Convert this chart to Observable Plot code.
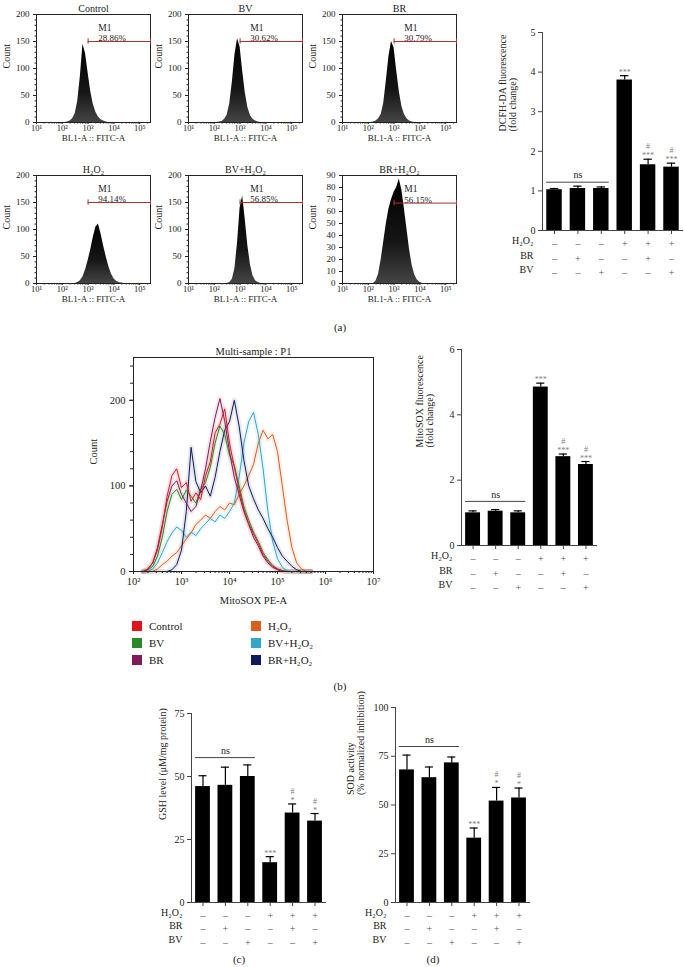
<!DOCTYPE html>
<html><head><meta charset="utf-8">
<script src="https://cdn.jsdelivr.net/npm/d3@7"></script>
<script src="https://cdn.jsdelivr.net/npm/@observablehq/plot@0.6"></script>
<style>
body{margin:0;background:#fff;}
#root{position:relative;width:684px;height:967px;overflow:hidden;font-family:"Liberation Serif","DejaVu Serif",serif;color:#222;}
#root svg{position:absolute;overflow:visible;}
.pl{position:absolute;font-size:11px;transform:translate(-50%,-50%);white-space:nowrap;}
.lg{position:absolute;font-size:11px;white-space:nowrap;line-height:12px;}
.sw{position:absolute;width:10px;height:10px;}
</style></head><body><div id="root"></div>
<script>
const serif = '"Liberation Serif","DejaVu Serif",serif';

// ---------------- (a) flow histograms (counts per 0.1-decade bin) ----------------
const histBins = [2.0,2.1,2.2,2.3,2.4,2.5,2.6,2.7,2.8,2.9,3.0,3.1,3.2,3.3,3.4,3.5,3.6,3.7,3.8,3.9,4.0,4.1,4.2,4.3,4.4,4.5,4.6];
const histControl = [0,0,1,3,7,16,40,85,145,128,92,58,34,19,10,5,3,1,0,0,0,0,0,0,0,0,0];
const histBV      = [0,0,1,2,6,14,35,75,125,155,140,95,55,28,13,6,3,1,0,0,0,0,0,0,0,0,0];
const histBR      = [0,0,1,3,7,15,36,78,122,150,138,96,58,30,15,7,3,1,0,0,0,0,0,0,0,0,0];
const histH2O2    = [0,0,0,0,0,0,2,5,12,25,42,62,85,104,110,92,70,50,32,18,9,4,2,1,0,0,0];
const histBVH2O2  = [0,0,0,0,0,0,2,8,28,75,140,162,118,70,35,14,5,2,0,0,0,0,0,0,0,0,0];
const histBRH2O2  = [0,0,0,2,8,20,35,50,62,70,76,80,87,78,62,45,28,15,7,3,1,0,0,0,0,0,0];
const histTitles  = ["Control","BV","BR","H₂O₂","BV+H₂O₂","BR+H₂O₂"];
const histGatePct = ["28.86%","30.62%","30.79%","94.14%","56.85%","56.15%"];
const histGateLvl = [150,150,150,150,150,67];
const histYMax    = [200,200,200,200,200,90];
const histYTicksA = [0,50,100,150,200];
const histYMinorA = [10,20,30,40,60,70,80,90,110,120,130,140,160,170,180,190];
const histYTicksB = [0,10,20,30,40,50,60,70,80,90];
const histXTicks  = [10,100,1000,10000,100000];
const histXLabels = ["10¹","10²","10³","10⁴","10⁵"];
const histXMinor  = [20,30,40,50,60,70,80,90,200,300,400,500,600,700,800,900,2000,3000,4000,5000,6000,7000,8000,9000,20000,30000,40000,50000,60000,70000,80000,90000,200000];

// ---------------- (b) overlay histogram ----------------
const ovBins = [2.2,2.3,2.4,2.5,2.6,2.7,2.8,2.9,3.0,3.1,3.2,3.3,3.4,3.5,3.6,3.7,3.8,3.9,4.0,4.1,4.2,4.3,4.4,4.5,4.6,4.7,4.8,4.9,5.0,5.1,5.2,5.3,5.4,5.5,5.6,5.7];
const ovControl = [0,3,10,25,52,88,112,120,98,104,82,92,84,112,128,162,172,190,150,122,96,72,56,44,33,20,12,6,3,1,0,0,0,0,0,0];
const ovBV      = [0,2,6,18,40,70,90,96,84,95,88,80,96,104,122,150,170,160,136,124,100,76,60,46,35,22,14,7,3,1,0,0,0,0,0,0];
const ovBR      = [0,3,10,28,55,82,100,106,90,80,70,76,95,120,152,180,202,176,140,110,90,70,55,40,30,18,10,5,2,0,0,0,0,0,0,0];
const ovH2O2    = [0,0,0,3,8,12,18,22,30,38,45,55,60,66,62,70,76,72,80,78,90,100,112,125,150,165,155,160,140,100,60,28,10,3,0,0];
const ovBVH2O2  = [0,0,3,10,22,35,45,52,48,40,46,42,50,56,62,58,66,62,70,80,110,150,175,186,160,120,70,35,15,5,1,0,0,0,0,0];
const ovBRH2O2  = [0,0,0,0,0,0,2,8,25,70,145,105,92,100,88,110,140,165,175,200,170,130,100,85,72,62,50,40,28,18,12,6,2,0,0,0];
const ovNames   = ["Control","BV","BR","H₂O₂","BV+H₂O₂","BR+H₂O₂"];
const ovColors  = ["#e0141c","#2b8a26","#801a5c","#da5e1c","#31a6c8","#0f1a5c"];
const ovXTicks  = [100,1000,10000,100000,1000000,10000000];
const ovXLabels = ["10²","10³","10⁴","10⁵","10⁶","10⁷"];
const ovYTicks  = [0,100,200];
const ovYMinor  = [0,20,40,60,80,100,120,140,160,180,200,220,240];

// ---------------- bar charts ----------------
const rowH2O2 = ["–","–","–","+","+","+"];
const rowBR   = ["–","+","–","–","+","–"];
const rowBV   = ["–","–","+","–","–","+"];
const dcfhMean = [1.03,1.06,1.06,3.80,1.66,1.60];
const dcfhErr  = [0.03,0.06,0.04,0.11,0.14,0.10];
const mitoMean = [1.00,1.05,1.00,4.85,2.72,2.48];
const mitoErr  = [0.06,0.05,0.06,0.12,0.08,0.09];
const gshMean  = [46,46.5,50,15.8,35.5,32.3];
const gshErr   = [4.3,7.2,4.6,2.4,3.6,3.0];
const sodMean  = [68,64,71.6,33,52,53.6];
const sodErr   = [7.6,5.5,3.0,5.2,7.0,5.1];
const sig1ROS  = ["","","","***","***","***"];
const sig2ROS  = ["","","","","#","#"];
const sig1Anti = ["","","","***","*","*"];
const sig2Anti = ["","","","","#","#"];

const root = document.getElementById("root");
function place(el, left, top){ el.style.left = left+"px"; el.style.top = top+"px"; root.appendChild(el); return el; }
function addDefs(svg){
  const defs = document.createElementNS("http://www.w3.org/2000/svg","defs");
  defs.innerHTML = '<linearGradient id="hg" x1="0" y1="0" x2="0" y2="1"><stop offset="0" stop-color="#000"/><stop offset="0.6" stop-color="#151515"/><stop offset="1" stop-color="#444"/></linearGradient>';
  svg.insertBefore(defs, svg.firstChild);
}
const baseStyle = {fontFamily: serif, background: "transparent", overflow: "visible", color: "#222"};

// ---- (a) histograms ----
const histSeries = [histControl,histBV,histBR,histH2O2,histBVH2O2,histBRH2O2];
const colLeft = [36,188,342], rowTop = [14,175];
histSeries.forEach((counts, i) => {
  const ML=36, MT=14, FW=114, FH=108, MR=8, MB=30;
  const ymax = histYMax[i], g = histGateLvl[i];
  const data = histBins.map((b,k) => ({x: Math.pow(10,b), y: counts[k]}));
  const svg = Plot.plot({
    width: ML+FW+MR, height: MT+FH+MB, marginLeft: ML, marginTop: MT, marginRight: MR, marginBottom: MB,
    style: {...baseStyle, fontSize: "9px"},
    x: {type: "log", domain: [10, 262144]},
    y: {domain: [0, ymax]},
    marks: [
      Plot.areaY(data, {x: "x", y: "y", fill: "url(#hg)", curve: "linear"}),
      Plot.frame({stroke: "#222"}),
      Plot.axisY({ticks: ymax === 200 ? histYTicksA : histYTicksB, tickSize: 3, tickPadding: 4, tickFormat: d => String(d), label: null}),
      ...(ymax === 200 ? [Plot.axisY({ticks: histYMinorA, tickSize: 1.5, tickFormat: () => "", label: null})] : []),
      Plot.axisX({ticks: histXTicks, tickFormat: d => histXLabels[histXTicks.indexOf(d)], tickSize: 2, tickPadding: 0, fontSize: 8.5, label: null}),
      Plot.axisX({ticks: histXMinor, tickFormat: () => "", tickSize: 1.5, label: null}),
      Plot.ruleY([g], {x1: 1000, x2: 262144, stroke: "#a83232", strokeWidth: 1}),
      Plot.ruleX([1000, 262144], {y1: g - ymax*0.025, y2: g + ymax*0.025, stroke: "#a83232"}),
      Plot.text(["M1"], {x: () => 2500, y: () => g, dy: -14, textAnchor: "start", fontSize: 9.5}),
      Plot.text([histGatePct[i]], {x: () => 2500, y: () => g, dy: -3, textAnchor: "start", fontSize: 9}),
      Plot.text([histTitles[i]], {frameAnchor: "top", dy: -10, fontSize: 10}),
      Plot.text(["Count"], {frameAnchor: "left", rotate: -90, dx: -30, fontSize: 10}),
      Plot.text(["BL1-A :: FITC-A"], {frameAnchor: "bottom", dy: 18, fontSize: 9})
    ]
  });
  if (i === 0) addDefs(svg);
  place(svg, colLeft[i%3]-ML, rowTop[Math.floor(i/3)]-MT);
});

// ---- bar chart helper ----
function barChart(o){
  const ML=80, MT=22, MR=4, MB=52;
  const data = o.mean.map((m,k) => ({i: k+1, mean: m, top: m + o.err[k], h: rowH2O2[k], br: rowBR[k], bv: rowBV[k], s1: o.s1[k], s2: o.s2[k]}));
  const x0 = 0.487, x1 = 6.513;
  const svg = Plot.plot({
    width: ML+o.fw+MR, height: MT+o.fh+MB, marginLeft: ML, marginTop: MT, marginRight: MR, marginBottom: MB,
    style: {...baseStyle, fontSize: "10px"},
    x: {domain: [x0, x1]},
    y: {domain: o.yDomain},
    marks: [
      Plot.rectY(data, {x1: d => d.i - 0.33, x2: d => d.i + 0.33, y1: () => 0, y2: "mean", fill: "#000"}),
      Plot.ruleX(data, {x: "i", y1: "mean", y2: "top", stroke: "#000", strokeWidth: 1.2}),
      Plot.ruleY(data, {x1: d => d.i - 0.18, x2: d => d.i + 0.18, y: "top", stroke: "#000", strokeWidth: 1.2}),
      Plot.ruleY([0], {stroke: "#444"}),
      Plot.ruleX([x0], {y1: () => 0, y2: () => o.yDomain[1], stroke: "#444"}),
      Plot.axisY({ticks: o.yTicks, tickSize: 4, tickPadding: 3, tickFormat: d => String(d), label: null, stroke: "#444"}),
      Plot.axisX({ticks: [1,2,3,4,5,6], tickSize: 4, tickFormat: () => "", label: null, stroke: "#444"}),
      Plot.ruleY([o.ns], {x1: () => 0.66, x2: () => 3.34, stroke: "#444"}),
      Plot.text(["ns"], {x: () => 2, y: () => o.ns, dy: -7, fontSize: 10}),
      Plot.text(data, {x: "i", y: "top", text: "s1", dy: -1, lineAnchor: "bottom", fill: "#808080", fontSize: 8}),
      Plot.text(data, {x: "i", y: "top", text: "s2", dy: -10, lineAnchor: "bottom", fill: "#808080", fontSize: 8}),
      Plot.text(data, {x: "i", y: () => 0, text: "h", dy: o.rows[0], fill: "#555"}),
      Plot.text(data, {x: "i", y: () => 0, text: "br", dy: o.rows[1], fill: "#555"}),
      Plot.text(data, {x: "i", y: () => 0, text: "bv", dy: o.rows[2], fill: "#555"}),
      Plot.text(["H₂O₂"], {frameAnchor: "bottom-left", dx: -9, dy: o.rows[0], textAnchor: "end"}),
      Plot.text(["BR"], {frameAnchor: "bottom-left", dx: -9, dy: o.rows[1], textAnchor: "end"}),
      Plot.text(["BV"], {frameAnchor: "bottom-left", dx: -9, dy: o.rows[2], textAnchor: "end"}),
      Plot.text([o.label], {frameAnchor: "left", rotate: -90, dx: o.labelDx, dy: o.labelDy || 0, fontSize: 10, lineHeight: 1.05})
    ]
  });
  place(svg, o.axisX - ML, o.top - MT);
}

barChart({axisX: 542, top: 32, fw: 141, fh: 198, yDomain: [0,5], yTicks: [0,1,2,3,4,5], mean: dcfhMean, err: dcfhErr, s1: sig1ROS, s2: sig2ROS, ns: 1.22, rows: [13,28,42], label: "DCFH-DA fluorescence\n(fold change)", labelDx: -35});
barChart({axisX: 461, top: 349, fw: 136, fh: 196, yDomain: [0,6], yTicks: [0,2,4,6], mean: mitoMean, err: mitoErr, s1: sig1ROS, s2: sig2ROS, ns: 1.35, rows: [13,28,42], label: "MitoSOX fluorescence\n(fold change)", labelDx: -37});
barChart({axisX: 191, top: 713, fw: 135, fh: 189, yDomain: [0,75], yTicks: [0,25,50,75], mean: gshMean, err: gshErr, s1: sig1Anti, s2: sig2Anti, ns: 57.5, rows: [13,26,40], label: "GSH level (μM/mg protein)", labelDx: -29, labelDy: 12});
barChart({axisX: 395, top: 707, fw: 135, fh: 195, yDomain: [0,100], yTicks: [0,25,50,75,100], mean: sodMean, err: sodErr, s1: sig1Anti, s2: sig2Anti, ns: 80, rows: [13,26,40], label: "SOD activity\n(% normalized inhibition)", labelDx: -40, labelDy: -10});

// ---- (b) overlay histogram ----
{
  const ML=50, MT=25, FW=240, FH=214, MR=10, MB=45;
  const ovSeries = [ovH2O2, ovBVH2O2, ovBRH2O2, ovBV, ovBR, ovControl];
  const ovIdx = [3,4,5,1,2,0];
  const rows = [];
  ovSeries.forEach((arr, s) => arr.forEach((c,k) => rows.push({x: Math.pow(10, ovBins[k]), y: c, z: ovNames[ovIdx[s]]})));
  const colorOf = Object.fromEntries(ovNames.map((n,k) => [n, ovColors[k]]));
  const svg = Plot.plot({
    width: ML+FW+MR, height: MT+FH+MB, marginLeft: ML, marginTop: MT, marginRight: MR, marginBottom: MB,
    style: {...baseStyle, fontSize: "10.5px"},
    x: {type: "log", domain: [100, 10000000]},
    y: {domain: [0, 250]},
    marks: [
      Plot.line(rows, {x: "x", y: "y", z: "z", stroke: d => colorOf[d.z], strokeWidth: 5, strokeOpacity: 0.1}),
      Plot.line(rows, {x: "x", y: "y", z: "z", stroke: d => colorOf[d.z], strokeWidth: 1}),
      Plot.frame({stroke: "#222"}),
      Plot.axisY({ticks: ovYTicks, tickSize: 4, tickPadding: 4, tickFormat: d => String(d), label: null}),
      Plot.axisY({ticks: ovYMinor, tickSize: 3, tickFormat: () => "", label: null}),
      Plot.axisX({ticks: ovXTicks, tickFormat: d => ovXLabels[ovXTicks.indexOf(d)], tickSize: 3, tickPadding: 3, label: null}),
      Plot.axisX({ticks: d3.range(2,7).flatMap(e => d3.range(2,10).map(m => m*Math.pow(10,e))), tickFormat: () => "", tickSize: 2, label: null}),
      Plot.text(["Multi-sample : P1"], {frameAnchor: "top", dy: -10, fontSize: 10.5}),
      Plot.text(["Count"], {frameAnchor: "left", rotate: -90, dx: -40, fontSize: 10.5}),
      Plot.text(["MitoSOX PE-A"], {frameAnchor: "bottom", dy: 32, fontSize: 10.5})
    ]
  });
  place(svg, 133-ML, 357-MT);
}

// ---- legend (b) ----
const legPos = [[137,626],[137,643],[137,660],[256,626],[256,643],[256,660]];
ovNames.forEach((name, k) => {
  const [lx, ly] = legPos[k];
  const sw = document.createElement("div"); sw.className = "sw"; sw.style.background = ovColors[k];
  place(sw, lx-5, ly-5);
  const t = document.createElement("div"); t.className = "lg"; t.textContent = name;
  place(t, lx+12, ly-6);
});

// ---- panel labels ----
[["(a)",340,327],["(b)",340,686],["(c)",239,959],["(d)",433,959]].forEach(([s,x,y]) => {
  const d = document.createElement("div"); d.className = "pl"; d.textContent = s; place(d, x, y);
});
</script></body></html>
